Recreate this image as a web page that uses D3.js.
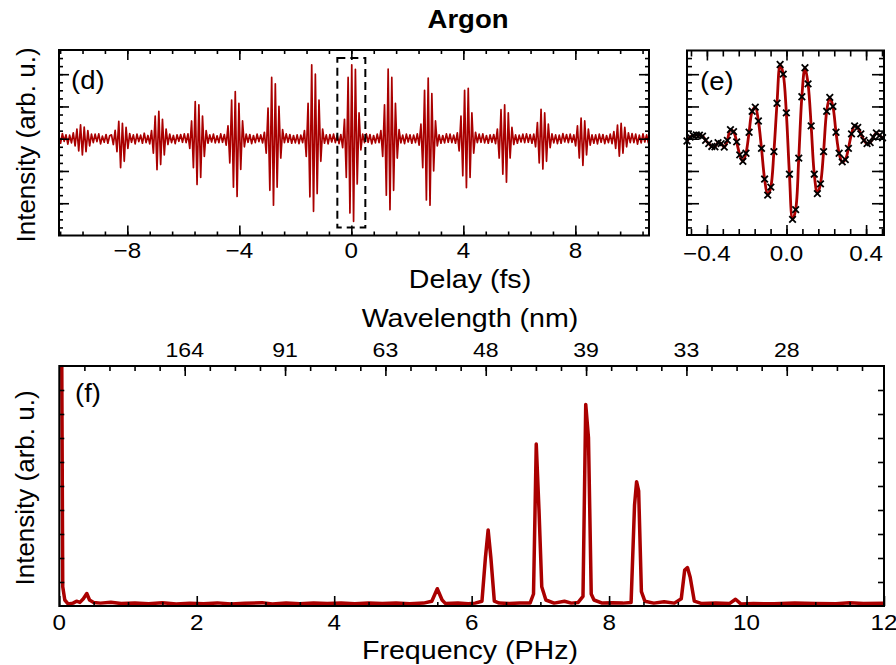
<!DOCTYPE html>
<html>
<head>
<meta charset="utf-8">
<script src="https://cdn.jsdelivr.net/npm/d3@7"></script>
<style>
  body { margin: 0; background: #fff; }
  svg { display: block; font-family: "Liberation Sans", Arial, sans-serif; }
</style>
</head>
<body>
<script>
// ---- data ----
// (d) delay trace, sampled every delayStep fs from delayStart, values in 0.01 arb. u.
var delayStart = -10.45, delayStep = 0.065;
var delaySignal = [
  10, -14, 16, -8, 12, -17, 11, -13,
  18, -22, 30, -38, 43, -50, 36, -40, 25, -22, 14,
  -12, 14, -9, 15, -16, 8, -11, 13, -14, 9,
  12, -18, 26, -40, 54, -90, 48, -70, 35, -30, 16,
  -11, 12, -16, 14, -9, 11, -14, 17, -12, 10,
  -16, 25, -45, 70, -96, 85, -80, 60, -50, 30, -18,
  14, -12, 10, -15, 12, -8, 13, -11, 15, -12,
  15, -30, 55, -90, 115, -142, 105, -120, 70, -55, 25,
  -14, 12, -10, 14, -13, 9, -12, 15, -11, 13,
  -20, 40, -75, 120, -150, 146, -179, 110, -95, 55, -25,
  14, -11, 13, -15, 10, -12, 14, -9, 12, -13,
  20, -45, 95, -160, 190, -206, 170, -150, 100, -60, 28,
  -12, 15, -11, 13, -14, 10, -13, 12, -15, 11, -12,
  25, -55, 110, -180, 229, -225, 200, -170, 120, -70, 30,
  -14, 12, -16, 13, -10, 14, -12, 11, -15, 13,
  -28, 60, -120, 190, -230, 229, -256, 215, -140, 80, -35,
  14, -12, 15, -11, 13, -16, 10, -13, 14, -12,
  25, -55, 105, -175, 216, -220, 190, -160, 110, -60, 28,
  -13, 11, -15, 14, -10, 12, -14, 11, -12, 15,
  -20, 45, -90, 150, -190, 188, -206, 140, -100, 55, -22,
  12, -14, 10, -13, 15, -11, 14, -12, 11, -14,
  18, -38, 70, -115, 150, -152, 156, -120, 80, -45, 20,
  -12, 14, -11, 15, -13, 10, -14, 12, -11, 13,
  -15, 30, -60, 90, -110, 105, -135, 80, -60, 35, -18,
  12, -14, 11, -10, 14, -12, 15, -11, 13, -14,
  14, -25, 50, -75, 91, -94, 80, -70, 45, -28, 15,
  -13, 12, -15, 11, -14, 16, -10, 13, -12, 14, -11,
  12, -22, 40, -60, 64, -83, 55, -50, 30, -20, 12,
  -14, 12, -16, 14, -11, 13, -15, 10, -12, 14,
  -15, 22, -30, 42, -54, 48, -45, 35, -25, 18, -12,
  16, -12, 14, -17, 11, -13, 15, -10, 12, -14
];
var zoomWindow = [-0.5, 0.5];

// (e) central burst, sampled every zoomStep fs from zoomStart
var zoomStart = -0.5, zoomStep = 0.0156;
var zoomSignal = [
  -0.07, 0.05, 0.10, 0.12, 0.11, 0.08, -0.05, -0.15, -0.24, -0.25,
  -0.12, -0.15, -0.26, -0.05, 0.28, 0.22, -0.10, -0.50, -0.70, -0.45,
  0.20, 0.85, 0.98, 0.55, -0.30, -1.25, -1.75, -1.50, -0.40, 1.10,
  2.30, 2.00, 0.80, -1.10, -2.50, -2.20, -0.60, 1.30, 2.20, 1.70,
  0.40, -1.10, -1.70, -1.40, -0.40, 0.85, 1.28, 1.00, 0.20, -0.45,
  -0.72, -0.65, -0.30, 0.15, 0.40, 0.35, 0.15, -0.05, -0.15, -0.12,
  0.05, 0.18, 0.10, 0.03
];

// (f) spectrum
var specFreq = [
  0.03, 0.05, 0.08, 0.13, 0.20, 0.25, 0.30, 0.35, 0.40, 0.44, 0.50, 0.60, 0.75, 0.90,
  1.10, 1.30, 1.50, 1.70, 1.90, 2.10, 2.30, 2.50, 2.70, 2.95, 3.10, 3.30, 3.50, 3.70,
  3.90, 4.10, 4.30, 4.50, 4.70, 4.90, 5.10, 5.30, 5.42, 5.50, 5.57, 5.62, 5.80, 5.95,
  6.05, 6.15, 6.20, 6.24, 6.28, 6.33, 6.40, 6.55, 6.70, 6.85, 6.90, 6.94, 6.98, 7.02,
  7.08, 7.20, 7.35, 7.45, 7.55, 7.62, 7.66, 7.70, 7.74, 7.78, 7.90, 8.05, 8.20, 8.32,
  8.37, 8.40, 8.43, 8.47, 8.52, 8.65, 8.80, 8.95, 9.05, 9.10, 9.14, 9.18, 9.24, 9.35,
  9.55, 9.75, 9.84, 9.92, 10.10, 10.40, 10.70, 11.00, 11.30, 11.50, 11.70, 12.00
];
var specIntensity = [
  14, 0.8, 0.25, 0.08, 0.12, 0.20, 0.15, 0.30, 0.52, 0.25, 0.15, 0.12, 0.16, 0.10,
  0.12, 0.09, 0.14, 0.08, 0.11, 0.09, 0.13, 0.08, 0.11, 0.14, 0.08, 0.12, 0.09, 0.13,
  0.10, 0.12, 0.09, 0.12, 0.10, 0.12, 0.09, 0.12, 0.20, 0.72, 0.25, 0.10, 0.12, 0.09,
  0.12, 0.20, 2.00, 3.17, 2.00, 0.20, 0.12, 0.10, 0.13, 0.12, 0.50, 6.75, 4.00, 0.80,
  0.25, 0.12, 0.20, 0.12, 0.15, 0.40, 8.40, 7.00, 0.50, 0.25, 0.12, 0.14, 0.12, 0.15,
  4.20, 5.18, 4.80, 0.60, 0.20, 0.12, 0.18, 0.12, 0.30, 1.50, 1.60, 1.20, 0.20, 0.10,
  0.12, 0.10, 0.28, 0.08, 0.10, 0.09, 0.12, 0.10, 0.09, 0.14, 0.10, 0.11
];

var delayTickValues = [-8, -4, 0, 4, 8];
var zoomTickValues = [-0.4, 0, 0.4];
var freqTickValues = [0, 2, 4, 6, 8, 10, 12];
var wavelengthTickFreq = [1.825, 3.285, 4.745, 6.205, 7.665, 9.125, 10.585];
var wavelengthTickLabels = ["164", "91", "63", "48", "39", "33", "28"];

// ---- drawing ----
var red = "#aa0000";
var W = 896, H = 665;
var svg = d3.select("body").append("svg").attr("width", W).attr("height", H);

function label(x, y, str, size, opts) {
  opts = opts || {};
  var t = svg.append("text")
    .attr("transform", "translate(" + x + "," + y + ")" + (opts.rot ? " rotate(-90)" : " scale(1.1,1)"))
    .attr("text-anchor", opts.anchor || "middle")
    .style("font-size", size + "px")
    .attr("fill", "#000")
    .text(str);
  if (opts.bold) t.style("font-weight", "bold");
  return t;
}

// draws inward ticks on one side of a frame
function ticks(axisFn, scale, values, len, tx, ty) {
  svg.append("g")
    .attr("transform", "translate(" + tx + "," + ty + ")")
    .call(axisFn(scale).tickValues(values).tickSize(-len).tickFormat(""))
    .call(function (g) {
      g.select(".domain").remove();
      g.selectAll("line").attr("stroke", "#000").attr("stroke-width", 1.6);
    });
}

function frame(x0, y0, x1, y1) {
  svg.append("rect").attr("x", x0).attr("y", y0)
    .attr("width", x1 - x0).attr("height", y1 - y0)
    .attr("fill", "none").attr("stroke", "#000").attr("stroke-width", 2);
}

function clip(id, x0, y0, x1, y1) {
  svg.append("clipPath").attr("id", id).append("rect")
    .attr("x", x0).attr("y", y0).attr("width", x1 - x0).attr("height", y1 - y0);
}

// panel (d)
var d = { l: 59, r: 649, t: 50, b: 235.5 };
var xd = d3.scaleLinear().domain([-10.44, 10.63]).range([d.l, d.r]);
var yd = d3.scaleLinear().domain([-3, 2.75]).range([d.b, d.t]);
clip("clipd", d.l, d.t, d.r, d.b);

var yMinor = d3.range(-11, 11).map(k => k * 0.25);
var yMajor = [-2, -1, 0, 1, 2];
var dMinor = d3.range(-13, 14).map(k => k * 0.8);

svg.append("path")
  .datum(delaySignal)
  .attr("clip-path", "url(#clipd)")
  .attr("d", d3.line().x((v, i) => xd(delayStart + i * delayStep)).y(v => yd(v / 100)))
  .attr("fill", "none").attr("stroke", red).attr("stroke-width", 1.7)
  .attr("stroke-linejoin", "round");

svg.append("rect")
  .attr("x", xd(zoomWindow[0])).attr("y", yd(2.5))
  .attr("width", xd(zoomWindow[1]) - xd(zoomWindow[0]))
  .attr("height", yd(-2.75) - yd(2.5))
  .attr("fill", "none").attr("stroke", "#000").attr("stroke-width", 2)
  .attr("stroke-dasharray", "8,5");

ticks(d3.axisBottom, xd, dMinor, 4, 0, d.b);
ticks(d3.axisBottom, xd, delayTickValues, 10, 0, d.b);
ticks(d3.axisTop, xd, dMinor, 4, 0, d.t);
ticks(d3.axisTop, xd, delayTickValues, 10, 0, d.t);
ticks(d3.axisLeft, yd, yMinor, 4, d.l, 0);
ticks(d3.axisLeft, yd, yMajor, 10, d.l, 0);
ticks(d3.axisRight, yd, yMinor, 4, d.r, 0);
ticks(d3.axisRight, yd, yMajor, 10, d.r, 0);
frame(d.l, d.t, d.r, d.b);

delayTickValues.forEach(v => label(xd(v), 258, d3.format("d")(v), 22));
label(470, 288, "Delay (fs)", 26);
label(35, 145, "Intensity (arb. u.)", 26, { rot: true });
label(71, 89, "(d)", 25, { anchor: "start" });

// panel (e)
var e = { l: 687, r: 884, t: 50.5, b: 235 };
var xe = d3.scaleLinear().domain([-0.5, 0.49]).range([e.l, e.r]);
var ye = d3.scaleLinear().domain([-3, 2.75]).range([d.b, d.t]);
var eMinor = d3.range(-6, 7).map(k => k * 0.08);
var zoomPts = zoomSignal.map((v, i) => [zoomStart + i * zoomStep, v]);

svg.append("path")
  .datum(zoomPts)
  .attr("d", d3.line().x(p => xe(p[0])).y(p => ye(p[1])).curve(d3.curveCatmullRom))
  .attr("fill", "none").attr("stroke", red).attr("stroke-width", 2.8);

var marker = d3.symbol().type(d3.symbolTimes || d3.symbolCross).size(30);
svg.append("g").selectAll("path").data(zoomPts).enter().append("path")
  .attr("transform", p => "translate(" + xe(p[0]) + "," + ye(p[1]) + ")")
  .attr("d", marker)
  .attr("fill", "none").attr("stroke", "#000").attr("stroke-width", 1.8);

ticks(d3.axisBottom, xe, eMinor, 6, 0, e.b);
ticks(d3.axisBottom, xe, zoomTickValues, 10, 0, e.b);
ticks(d3.axisTop, xe, eMinor, 6, 0, e.t);
ticks(d3.axisTop, xe, zoomTickValues, 10, 0, e.t);
ticks(d3.axisLeft, ye, yMinor, 5, e.l, 0);
ticks(d3.axisLeft, ye, yMajor, 12, e.l, 0);
ticks(d3.axisRight, ye, yMinor, 5, e.r, 0);
ticks(d3.axisRight, ye, yMajor, 12, e.r, 0);
frame(e.l, e.t, e.r, e.b);

zoomTickValues.forEach(v => label(xe(v), 261, d3.format(".1f")(v), 22));
label(700, 90, "(e)", 25, { anchor: "start" });

// panel (f)
var f = { l: 59.3, r: 884, t: 366, b: 606 };
var xf = d3.scaleLinear().domain([0, 12]).range([f.l, f.r]);
var yf = d3.scaleLinear().domain([0, 10]).range([f.b, f.t]);
clip("clipf", f.l, f.t, f.r, f.b);

svg.append("path")
  .datum(specFreq.map((v, i) => [v, specIntensity[i]]))
  .attr("clip-path", "url(#clipf)")
  .attr("d", d3.line().x(p => xf(p[0])).y(p => yf(p[1])))
  .attr("fill", "none").attr("stroke", red).attr("stroke-width", 3.5)
  .attr("stroke-linejoin", "round");

var fMinor = d3.range(1, 24).map(k => k * 0.5);
var wlMinor = d3.range(1, 33).map(k => k * 0.365);
var fY = d3.range(1, 10);

ticks(d3.axisBottom, xf, fMinor, 4, 0, f.b);
ticks(d3.axisBottom, xf, freqTickValues, 10, 0, f.b);
ticks(d3.axisTop, xf, wlMinor, 5, 0, f.t);
ticks(d3.axisTop, xf, wavelengthTickFreq, 10, 0, f.t);
ticks(d3.axisLeft, yf, fY, 5, f.l, 0);
ticks(d3.axisRight, yf, fY, 6, f.r, 0);
frame(f.l, f.t, f.r, f.b);

freqTickValues.forEach(v => label(xf(v), 630, String(v), 22));
wavelengthTickFreq.forEach((v, i) => label(xf(v), 357, wavelengthTickLabels[i], 21));
label(470, 327, "Wavelength (nm)", 26);
label(470, 659, "Frequency (PHz)", 26);
label(34, 488, "Intensity (arb. u.)", 26, { rot: true });
label(75, 402, "(f)", 25, { anchor: "start" });

label(468, 28, "Argon", 25, { bold: true });
</script>
</body>
</html>
